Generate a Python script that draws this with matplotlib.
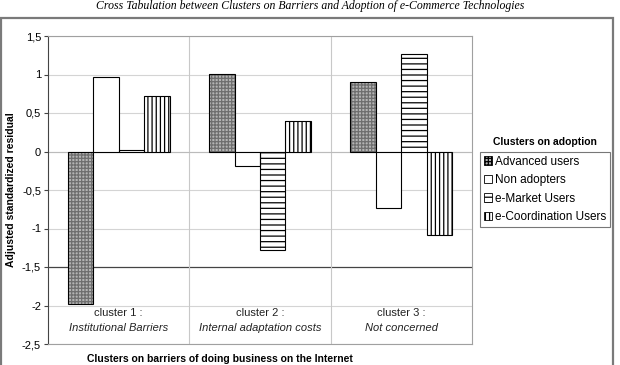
import matplotlib
matplotlib.use("Agg")
import matplotlib.pyplot as plt
import matplotlib.patches as mpatches
import numpy as np

plt.rcParams['font.family'] = ['Liberation Sans', 'DejaVu Sans']
plt.rcParams['hatch.linewidth'] = 0.9

clusters = ["cluster 1 :", "cluster 2 :", "cluster 3 :"]
cluster_names = ["Institutional Barriers", "Internal adaptation costs", "Not concerned"]
series = ["Advanced users", "Non adopters", "e-Market Users", "e-Coordination Users"]
advanced = [-1.98, 1.01, 0.90]
non_adopters = [0.97, -0.19, -0.74]
e_market = [0.02, -1.28, 1.27]
e_coord = [0.72, 0.40, -1.08]
yticks = [-2.5, -2, -1.5, -1, -0.5, 0, 0.5, 1, 1.5]
ytick_labels = ["-2,5", "-2", "-1,5", "-1", "-0,5", "0", "0,5", "1", "1,5"]

values = [advanced, non_adopters, e_market, e_coord]
styles = [
    dict(face="#b4b4b4", hatch="+++++", hcolor="#6e6e6e"),
    dict(face="white", hatch=None, hcolor="black"),
    dict(face="white", hatch="---", hcolor="black"),
    dict(face="white", hatch="||||", hcolor="black"),
]

fig = plt.figure(figsize=(6.2, 3.65), dpi=100)
ax = fig.add_axes([48/620, 1-344/365, (472-48)/620, (344-36)/365])

x = np.arange(len(clusters))
w = 0.18
for i, (vals, st) in enumerate(zip(values, styles)):
    pos = x + (i - 1.5) * w
    if st["hatch"]:
        ax.bar(pos, vals, width=w, color=st["face"], hatch=st["hatch"],
               edgecolor=st["hcolor"], linewidth=0, zorder=3)
    else:
        ax.bar(pos, vals, width=w, color=st["face"], linewidth=0, zorder=3)
    ax.bar(pos, vals, width=w, fill=False, edgecolor="black", linewidth=0.8, zorder=4)

ax.set_xlim(-0.5, 2.5)
ax.set_ylim(-2.5, 1.5)
ax.set_yticks(yticks)
ax.set_yticklabels(ytick_labels, fontsize=8)
ax.set_xticks([])
for yv in yticks:
    if yv == -1.5:
        ax.axhline(yv, color="#444444", linewidth=0.9, zorder=1)
    else:
        ax.axhline(yv, color="#d4d4d4", linewidth=0.8, zorder=1)
ax.axhline(0, color="#bbbbbb", linewidth=0.8, zorder=2)
for xv in [0.5, 1.5]:
    ax.axvline(xv, color="#c8c8c8", linewidth=0.8, zorder=1)
for s in ["top", "right", "bottom"]:
    ax.spines[s].set_color("#a0a0a0")
ax.spines["left"].set_color("#444444")
ax.tick_params(axis="y", length=3, width=0.8, color="#444444", pad=2)

for xi, c, n in zip(x, clusters, cluster_names):
    ax.text(xi, -2.10, c, ha="center", va="center", fontsize=8, color="#222222")
    ax.text(xi, -2.29, n, ha="center", va="center", fontsize=8, style="italic", color="#222222")

ax.set_ylabel("Adjusted standardized residual", fontsize=7.5, fontweight="bold", labelpad=4)

fig.text(220/620, 0.002, "Clusters on barriers of doing business on the Internet",
         ha="center", va="bottom", fontsize=7.5, fontweight="bold")

fig.text(0.5, 0.999, "Cross Tabulation between Clusters on Barriers and Adoption of e-Commerce Technologies",
         ha="center", va="top", fontsize=8.5, style="italic", family=["Liberation Serif"])

# outer frame
fig.patches.append(mpatches.Rectangle((0.5/620, -0.05), 612.5/620, 1-18/365+0.05,
                                      transform=fig.transFigure, fill=False,
                                      edgecolor="#7a7a7a", linewidth=1.6))

fig.text(545/620, 1-142/365, "Clusters on adoption", ha="center", va="center",
         fontsize=7.5, fontweight="bold")

handles = []
for st, lab in zip(styles, series):
    handles.append(mpatches.Patch(facecolor=st["face"], hatch=st["hatch"] if st["hatch"] else None,
                                  edgecolor="black", linewidth=0.6, label=lab))
leg = fig.legend(handles=handles, loc="upper left", bbox_to_anchor=(480/620, 1-152/365),
                 fontsize=8.5, frameon=True, fancybox=False, handlelength=0.7, handleheight=0.7,
                 handletextpad=0.3, borderpad=0.3, labelspacing=0.55, borderaxespad=0)
leg.get_frame().set_edgecolor("#555555")
leg.get_frame().set_linewidth(0.8)

fig.savefig("out.png", dpi=100)
